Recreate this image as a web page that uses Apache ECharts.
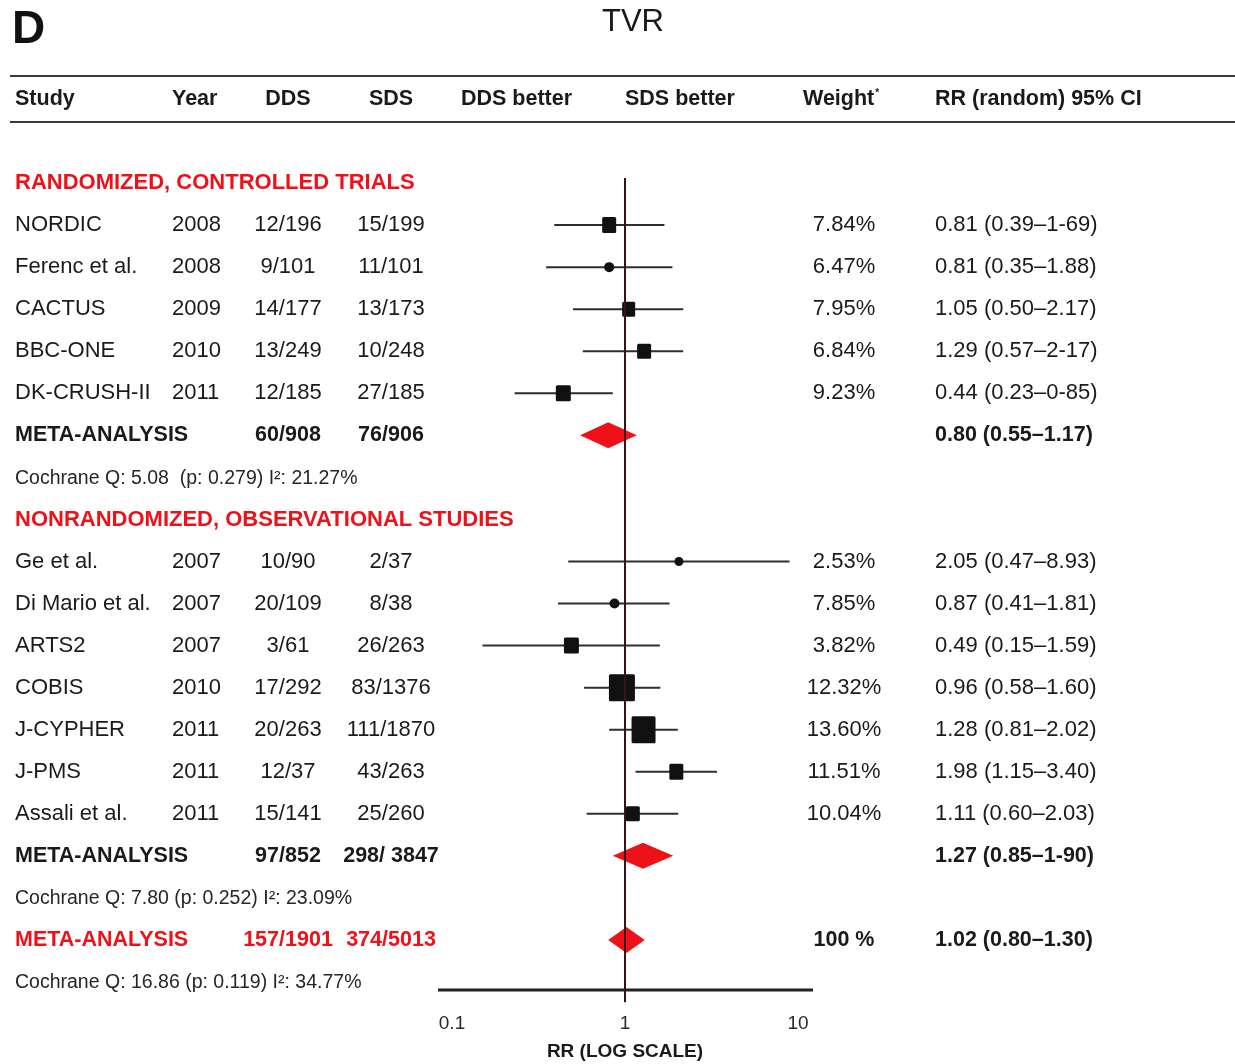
<!DOCTYPE html>
<html>
<head>
<meta charset="utf-8">
<script src="https://cdn.jsdelivr.net/npm/echarts@6/dist/echarts.min.js"></script>
<style>
  html, body { margin: 0; padding: 0; background: #fff; }
  #chart { width: 1235px; height: 1064px; }
</style>
</head>
<body>
<div id="chart"></div>
<script>
// ---- Randomized, controlled trials ----
const rctStudies = ['NORDIC', 'Ferenc et al.', 'CACTUS', 'BBC-ONE', 'DK-CRUSH-II'];
const rctYears   = ['2008', '2008', '2009', '2010', '2011'];
const rctDDS     = ['12/196', '9/101', '14/177', '13/249', '12/185'];
const rctSDS     = ['15/199', '11/101', '13/173', '10/248', '27/185'];
const rctWeight  = ['7.84%', '6.47%', '7.95%', '6.84%', '9.23%'];
const rctRR      = [0.81, 0.81, 1.05, 1.29, 0.44];
const rctLow     = [0.39, 0.35, 0.50, 0.57, 0.23];
const rctHigh    = [1.69, 1.88, 2.17, 2.17, 0.85];
const rctCI      = ['0.81 (0.39–1-69)', '0.81 (0.35–1.88)', '1.05 (0.50–2.17)', '1.29 (0.57–2-17)', '0.44 (0.23–0-85)'];

// ---- Nonrandomized, observational studies ----
const obsStudies = ['Ge et al.', 'Di Mario et al.', 'ARTS2', 'COBIS', 'J-CYPHER', 'J-PMS', 'Assali et al.'];
const obsYears   = ['2007', '2007', '2007', '2010', '2011', '2011', '2011'];
const obsDDS     = ['10/90', '20/109', '3/61', '17/292', '20/263', '12/37', '15/141'];
const obsSDS     = ['2/37', '8/38', '26/263', '83/1376', '111/1870', '43/263', '25/260'];
const obsWeight  = ['2.53%', '7.85%', '3.82%', '12.32%', '13.60%', '11.51%', '10.04%'];
const obsRR      = [2.05, 0.87, 0.49, 0.96, 1.28, 1.98, 1.11];
const obsLow     = [0.47, 0.41, 0.15, 0.58, 0.81, 1.15, 0.60];
const obsHigh    = [8.93, 1.81, 1.59, 1.60, 2.02, 3.40, 2.03];
const obsCI      = ['2.05 (0.47–8.93)', '0.87 (0.41–1.81)', '0.49 (0.15–1.59)', '0.96 (0.58–1.60)', '1.28 (0.81–2.02)', '1.98 (1.15–3.40)', '1.11 (0.60–2.03)'];

// ---- Pooled estimates: RCT, observational, overall ----
const metaDDS    = ['60/908', '97/852', '157/1901'];
const metaSDS    = ['76/906', '298/ 3847', '374/5013'];
const metaWeight = ['', '', '100 %'];
const metaRR     = [0.80, 1.27, 1.02];
const metaLow    = [0.55, 0.85, 0.80];
const metaHigh   = [1.17, 1.90, 1.30];
const metaCI     = ['0.80 (0.55–1.17)', '1.27 (0.85–1-90)', '1.02 (0.80–1.30)'];
const heterogeneity = [
  'Cochrane Q: 5.08  (p: 0.279) I²: 21.27%',
  'Cochrane Q: 7.80 (p: 0.252) I²: 23.09%',
  'Cochrane Q: 16.86 (p: 0.119) I²: 34.77%'
];

const xTicks = [0.1, 1, 10];

// ---- Styling ----
const FONT = "'Liberation Sans', Arial, Helvetica, sans-serif";
const RED = '#ee1118';
const INK = '#1a1a1a';
// Marker shape per study (w x h in px), in table order
const rctMarks = [
  { shape: 'rect', w: 14, h: 16 }, { shape: 'circle', w: 10 }, { shape: 'rect', w: 13, h: 15 },
  { shape: 'rect', w: 14, h: 15 }, { shape: 'rect', w: 15, h: 16 }
];
const obsMarks = [
  { shape: 'circle', w: 9 }, { shape: 'circle', w: 10 }, { shape: 'rect', w: 15, h: 16 },
  { shape: 'rect', w: 26, h: 27 }, { shape: 'rect', w: 24, h: 27 }, { shape: 'rect', w: 14, h: 16 },
  { shape: 'rect', w: 14, h: 15 }
];

// Column anchors of the table
const COL = { study: 15, year: 172, dds: 288, sds: 391, weight: 844, ci: 935 };

// ---- Build table rows ----
const rows = [];
rows.push({ kind: 'heading', text: 'RANDOMIZED, CONTROLLED TRIALS' });
rctStudies.forEach((s, i) => rows.push({
  kind: 'study', name: s, year: rctYears[i], dds: rctDDS[i], sds: rctSDS[i],
  weight: rctWeight[i], ci: rctCI[i], rr: rctRR[i], low: rctLow[i], high: rctHigh[i], mark: rctMarks[i]
}));
const metaRow = (k, color) => ({
  kind: 'meta', name: 'META-ANALYSIS', color, dds: metaDDS[k], sds: metaSDS[k],
  weight: metaWeight[k], ci: metaCI[k], rr: metaRR[k], low: metaLow[k], high: metaHigh[k]
});
rows.push(metaRow(0, INK));
rows.push({ kind: 'het', text: heterogeneity[0] });
rows.push({ kind: 'heading', text: 'NONRANDOMIZED, OBSERVATIONAL STUDIES' });
obsStudies.forEach((s, i) => rows.push({
  kind: 'study', name: s, year: obsYears[i], dds: obsDDS[i], sds: obsSDS[i],
  weight: obsWeight[i], ci: obsCI[i], rr: obsRR[i], low: obsLow[i], high: obsHigh[i], mark: obsMarks[i]
}));
rows.push(metaRow(1, INK));
rows.push({ kind: 'het', text: heterogeneity[1] });
rows.push(metaRow(2, RED));
rows.push({ kind: 'het', text: heterogeneity[2] });

const Y_MIN = -0.12;
const Y_MAX = rows.length - 1 + 0.19;

const studyData = [], studyMarks = [], metaData = [];
rows.forEach((r, i) => {
  if (r.kind === 'study') { studyData.push([r.low, r.high, r.rr, i]); studyMarks.push(r.mark); }
  if (r.kind === 'meta') metaData.push([r.low, r.high, r.rr, i]);
});

function txt(text, x, y, opt) {
  return {
    type: 'text',
    style: Object.assign({
      text, x, y, fill: INK, align: 'left', verticalAlign: 'middle',
      font: `22px ${FONT}`
    }, opt || {})
  };
}

const HEAD = `bold 21.5px ${FONT}`;

const chart = echarts.init(document.getElementById('chart'), null, { renderer: 'canvas' });

chart.setOption({
  backgroundColor: '#ffffff',
  animation: false,
  grid: { left: 452, right: 437, top: 178, bottom: 74, containLabel: false, outerBoundsMode: 'none' },
  xAxis: {
    type: 'log', logBase: 10, min: xTicks[0], max: xTicks[xTicks.length - 1],
    axisLine: { show: false }, axisTick: { show: false }, splitLine: { show: false },
    axisLabel: { color: '#2a2a2a', fontSize: 19, fontFamily: FONT, margin: 24 },
    name: 'RR (LOG SCALE)', nameLocation: 'middle', nameGap: 52,
    nameTextStyle: { color: INK, fontSize: 19, fontWeight: 'bold', fontFamily: FONT }
  },
  yAxis: { type: 'value', inverse: true, min: Y_MIN, max: Y_MAX, show: false },
  graphic: [
    { type: 'text', x: 12, y: 30, style: { text: 'D', font: `bold 46px ${FONT}`, fill: '#111', verticalAlign: 'middle' } },
    { type: 'text', x: 633, y: 22, style: { text: 'TVR', font: `31px ${FONT}`, fill: INK, align: 'center', verticalAlign: 'middle' } },
    { type: 'line', shape: { x1: 10, y1: 76, x2: 1235, y2: 76 }, style: { stroke: '#3a3a3a', lineWidth: 2 } },
    { type: 'line', shape: { x1: 10, y1: 122, x2: 1235, y2: 122 }, style: { stroke: '#3a3a3a', lineWidth: 2 } },
    { type: 'text', x: COL.study, y: 99, style: { text: 'Study', font: HEAD, fill: INK, verticalAlign: 'middle' } },
    { type: 'text', x: COL.year, y: 99, style: { text: 'Year', font: HEAD, fill: INK, verticalAlign: 'middle' } },
    { type: 'text', x: COL.dds, y: 99, style: { text: 'DDS', font: HEAD, fill: INK, align: 'center', verticalAlign: 'middle' } },
    { type: 'text', x: COL.sds, y: 99, style: { text: 'SDS', font: HEAD, fill: INK, align: 'center', verticalAlign: 'middle' } },
    { type: 'text', x: 461, y: 99, style: { text: 'DDS better', font: HEAD, fill: INK, verticalAlign: 'middle' } },
    { type: 'text', x: 625, y: 99, style: { text: 'SDS better', font: HEAD, fill: INK, verticalAlign: 'middle' } },
    {
      type: 'text', x: 803, y: 99,
      style: {
        text: '{a|Weight}{s|*}', verticalAlign: 'middle',
        rich: {
          a: { font: HEAD, fill: INK, verticalAlign: 'middle' },
          s: { font: `bold 10px ${FONT}`, fill: INK, verticalAlign: 'top', padding: [0, 0, 10, 1] }
        }
      }
    },
    { type: 'text', x: COL.ci, y: 99, style: { text: 'RR (random) 95% CI', font: HEAD, fill: INK, verticalAlign: 'middle' } }
  ],
  series: [
    // table text, one item per row
    {
      type: 'custom', name: 'table', silent: true, z: 5,
      data: rows.map((r, i) => [1, i]),
      renderItem(params, api) {
        const r = rows[params.dataIndex];
        const y = api.coord([1, api.value(1)])[1];
        const c = [];
        if (r.kind === 'heading') {
          c.push(txt(r.text, COL.study, y, { fill: RED, font: `bold 22px ${FONT}` }));
        } else if (r.kind === 'het') {
          c.push(txt(r.text, COL.study, y + 1, { font: `19.5px ${FONT}`, fill: '#262626' }));
        } else if (r.kind === 'study') {
          c.push(txt(r.name, COL.study, y));
          c.push(txt(r.year, COL.year, y));
          c.push(txt(r.dds, COL.dds, y, { align: 'center' }));
          c.push(txt(r.sds, COL.sds, y, { align: 'center' }));
          c.push(txt(r.weight, COL.weight, y, { align: 'center' }));
          c.push(txt(r.ci, COL.ci, y));
        } else if (r.kind === 'meta') {
          const b = { font: HEAD, fill: r.color };
          c.push(txt(r.name, COL.study, y, b));
          c.push(txt(r.dds, COL.dds, y, Object.assign({ align: 'center' }, b)));
          c.push(txt(r.sds, COL.sds, y, Object.assign({ align: 'center' }, b)));
          if (r.weight) c.push(txt(r.weight, COL.weight, y, Object.assign({ align: 'center' }, b, { fill: INK })));
          c.push(txt(r.ci, COL.ci, y, Object.assign({}, b, { fill: INK })));
        }
        return { type: 'group', children: c };
      }
    },
    // individual studies: CI whisker + weighted marker
    {
      type: 'custom', name: 'studies', z: 3,
      dimensions: ['low', 'high', 'rr', 'row'],
      encode: { x: [0, 1, 2], y: 3 },
      data: studyData,
      renderItem(params, api) {
        const row = api.value(3);
        const pL = api.coord([api.value(0), row]);
        const pH = api.coord([api.value(1), row]);
        const pE = api.coord([api.value(2), row]);
        const m = studyMarks[params.dataIndex];
        const children = [{
          type: 'line',
          shape: { x1: pL[0], y1: pL[1], x2: pH[0], y2: pH[1] },
          style: { stroke: '#2e2e2e', lineWidth: 2 }
        }];
        if (m.shape === 'circle') {
          children.push({ type: 'circle', shape: { cx: pE[0], cy: pE[1], r: m.w / 2 }, style: { fill: '#111' } });
        } else {
          children.push({
            type: 'rect',
            shape: { x: pE[0] - m.w / 2, y: pE[1] - m.h / 2, width: m.w, height: m.h, r: 1.5 },
            style: { fill: '#111' }
          });
        }
        return { type: 'group', children };
      }
    },
    // pooled estimates: diamonds spanning the CI
    {
      type: 'custom', name: 'meta', z: 2,
      dimensions: ['low', 'high', 'rr', 'row'],
      encode: { x: [0, 1, 2], y: 3 },
      data: metaData,
      renderItem(params, api) {
        const row = api.value(3);
        const pL = api.coord([api.value(0), row]);
        const pH = api.coord([api.value(1), row]);
        const pE = api.coord([api.value(2), row]);
        const hh = 13;
        return {
          type: 'polygon',
          shape: { points: [[pL[0], pE[1]], [pE[0], pE[1] - hh], [pH[0], pE[1]], [pE[0], pE[1] + hh]] },
          style: { fill: RED }
        };
      }
    },
    // line of no effect (RR = 1)
    {
      type: 'line', name: 'no effect', z: 4, clip: false, silent: true,
      symbol: 'none', data: [[1, Y_MIN], [1, Y_MAX + 0.29]],
      lineStyle: { color: '#3a1414', width: 2 }
    },
    // horizontal axis baseline, running a little past the first and last ticks
    {
      type: 'custom', name: 'baseline', z: 4, silent: true,
      data: [[xTicks[0], xTicks[xTicks.length - 1], Y_MAX]],
      dimensions: ['from', 'to', 'row'],
      encode: { x: [0, 1], y: 2 },
      renderItem(params, api) {
        const a = api.coord([api.value(0), api.value(2)]);
        const b = api.coord([api.value(1), api.value(2)]);
        return {
          type: 'line',
          shape: { x1: a[0] - 14, y1: a[1], x2: b[0] + 15, y2: b[1] },
          style: { stroke: '#222', lineWidth: 3 }
        };
      }
    }
  ]
});
</script>
</body>
</html>
